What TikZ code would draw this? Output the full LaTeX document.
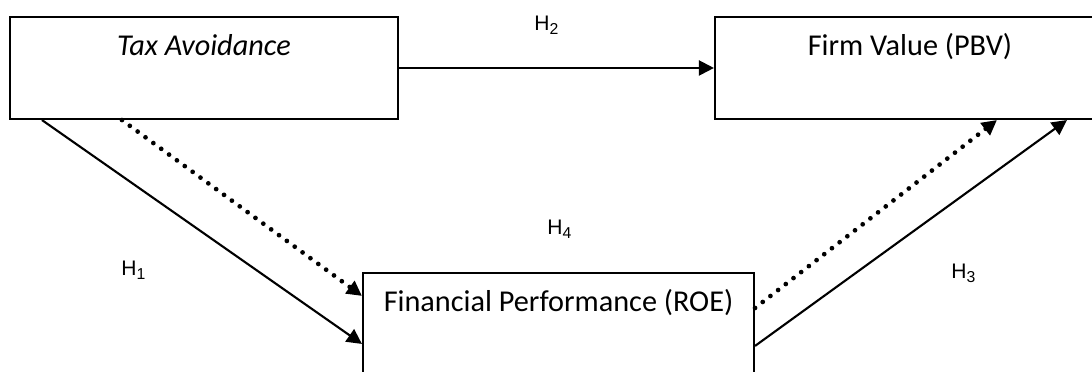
\documentclass[tikz,border=0pt]{standalone}
\usepackage{fontspec}
\setmainfont{Carlito}
\newfontfamily\hfont{Liberation Sans}
\usetikzlibrary{arrows.meta, calc}
\tikzset{
    mybox/.style={
        draw,
        line width=0.8pt,
        inner sep=0pt,
        minimum width=#1*0.38pt,
        minimum height=102*0.38pt
    },
    boxtext/.style={anchor=base, label distance=-15pt, font=\fontsize{11.5}{13}\selectfont},
    hyp/.style={font=\hfont\fontsize{8}{9}\selectfont},
    link/.style={line width=0.8pt, -{Triangle[length=5.7pt, width=5.7pt]}},
    dotlink/.style={link, line width=1.8pt, line cap=round, dash pattern=on 0pt off 3.7pt}
}

\begin{document}
\begin{tikzpicture}[x=0.38pt, y=-0.38pt]
\useasboundingbox (0,0) rectangle (1092,372);
\clip (0,0) rectangle (1092,372);

\node[mybox=388, label={[boxtext]north:\textit{Tax Avoidance}}]      (ta) at (204,68)    {};
\node[mybox=390, label={[boxtext]north:Firm Value (PBV)}]            (fv) at (910,68)    {};
\node[mybox=391, label={[boxtext]north:Financial Performance (ROE)}] (fp) at (558.5,324) {};

\node[hyp] (h1) at (134,270) {H\textsubscript{1}};
\node[hyp] (h2) at (547,25)  {H\textsubscript{2}};
\node[hyp] (h3) at (964,273) {H\textsubscript{3}};
\node[hyp] (h4) at (560,229) {H\textsubscript{4}};

\draw[link]    (ta) -- (fv);
\draw[link]    ($(ta.south west)+(33,0)$)  -- ($(fp.north west)+(0,72)$);
\draw[dotlink] ($(ta.south west)+(113,0)$) -- ($(fp.north west)+(0,24)$);
\draw[dotlink] ($(fp.north east)+(0,36)$)  -- ($(fv.south west)+(283,0)$);
\draw[link]    ($(fp.north east)+(0,74)$)  -- ($(fv.south west)+(353,0)$);
\end{tikzpicture}
\end{document}
